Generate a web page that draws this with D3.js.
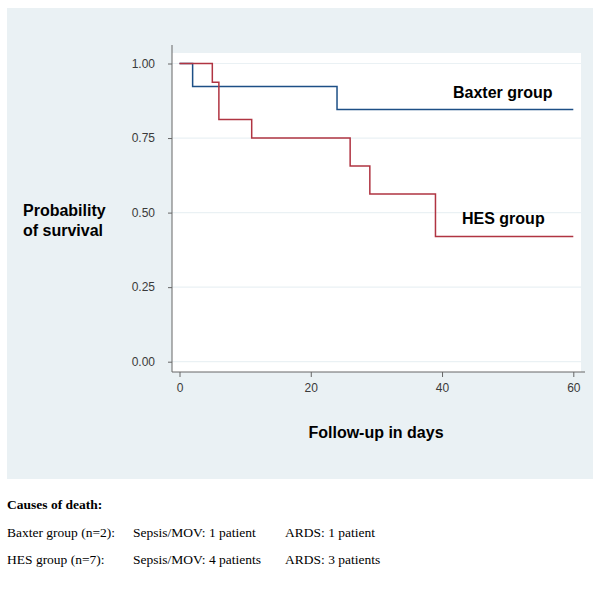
<!DOCTYPE html>
<html><head><meta charset="utf-8">
<script src="https://cdn.jsdelivr.net/npm/d3@7"></script>
<style>body{margin:0;background:#fff}</style>
</head><body>
<script>
// Data (Kaplan-Meier step points: [day, survival])
const baxterSteps = [[0,1.0],[2,0.923],[24,0.846],[60,0.846]];
const hesSteps = [[0,1.0],[5,0.9375],[6,0.8125],[11,0.75],[26,0.656],[29,0.5625],[39,0.42],[60,0.42]];
const yTicks = [0,0.25,0.5,0.75,1.0];
const xTicks = [0,20,40,60];
const seriesLabels = ["Baxter group","HES group"];
const causesTitle = "Causes of death:";
const causesRows = [
  ["Baxter group (n=2):","Sepsis/MOV: 1 patient","ARDS: 1 patient"],
  ["HES group (n=7):","Sepsis/MOV: 4 patients","ARDS: 3 patients"]
];

const W=600,H=596;
const svg=d3.select("body").append("svg").attr("width",W).attr("height",H);
svg.append("rect").attr("x",7).attr("y",8).attr("width",586).attr("height",471).attr("fill","#eaf1f4");
const plot={l:172,r:581,t:53,b:372};
svg.append("rect").attr("x",plot.l).attr("y",plot.t).attr("width",plot.r-plot.l).attr("height",plot.b-plot.t).attr("fill","#fff");

const x=d3.scaleLinear().domain([0,60]).range([179.5,573.3]);
const y=d3.scaleLinear().domain([0,1]).range([361.7,63.5]);

// gridlines
svg.append("g").selectAll("line").data(yTicks).join("line")
  .attr("x1",plot.l).attr("x2",plot.r).attr("y1",d=>y(d)).attr("y2",d=>y(d))
  .attr("stroke","#eaf1f4").attr("stroke-width",1.2);

// axes
const yAxis=d3.axisLeft(y).tickValues(yTicks).tickFormat(d3.format(".2f")).tickSize(4).tickPadding(13);
const gy=svg.append("g").attr("transform",`translate(${plot.l},0)`).call(yAxis);
gy.select(".domain").attr("d",`M0,${plot.t-8}V${plot.b}`).attr("stroke","#666");
const xAxis=d3.axisBottom(x).tickValues(xTicks).tickSize(5).tickPadding(6);
const gx=svg.append("g").attr("transform",`translate(0,${plot.b})`).call(xAxis);
gx.select(".domain").attr("d",`M${plot.l},0H${plot.r+4}`).attr("stroke","#666");
[gx,gy].forEach(g=>{
  g.selectAll(".tick line").attr("stroke","#666");
  g.selectAll(".tick text").attr("font-family","Arial, 'Liberation Sans', sans-serif").attr("font-size",12).attr("fill","#3a3a3a");
});

const line=d3.line().x(d=>x(d[0])).y(d=>y(d[1])).curve(d3.curveStepAfter);
svg.append("path").datum(baxterSteps).attr("d",line).attr("fill","none").attr("stroke","#1d4f86").attr("stroke-width",1.5);
svg.append("path").datum(hesSteps).attr("d",line).attr("fill","none").attr("stroke","#b03442").attr("stroke-width",1.5);

const bold="Arial, 'Liberation Sans', sans-serif";
svg.append("text").attr("x",453).attr("y",98).text(seriesLabels[0]).attr("font-family",bold).attr("font-weight","bold").attr("font-size",16);
svg.append("text").attr("x",462).attr("y",224).text(seriesLabels[1]).attr("font-family",bold).attr("font-weight","bold").attr("font-size",16);
const yl=svg.append("text").attr("font-family",bold).attr("font-weight","bold").attr("font-size",16);
yl.append("tspan").attr("x",23).attr("y",216).text("Probability");
yl.append("tspan").attr("x",23).attr("y",236).text("of survival");
svg.append("text").attr("x",376).attr("y",438).attr("text-anchor","middle").text("Follow-up in days").attr("font-family",bold).attr("font-weight","bold").attr("font-size",16);

const serif="'Times New Roman','Liberation Serif',serif";
svg.append("text").attr("x",7).attr("y",509).text(causesTitle).attr("font-family",serif).attr("font-weight","bold").attr("font-size",13.5);
const colX=[7,133,285];
causesRows.forEach((row,i)=>{
  row.forEach((t,j)=>{
    svg.append("text").attr("x",colX[j]).attr("y",537+i*27).text(t).attr("font-family",serif).attr("font-size",13.5);
  });
});
</script>
</body></html>
